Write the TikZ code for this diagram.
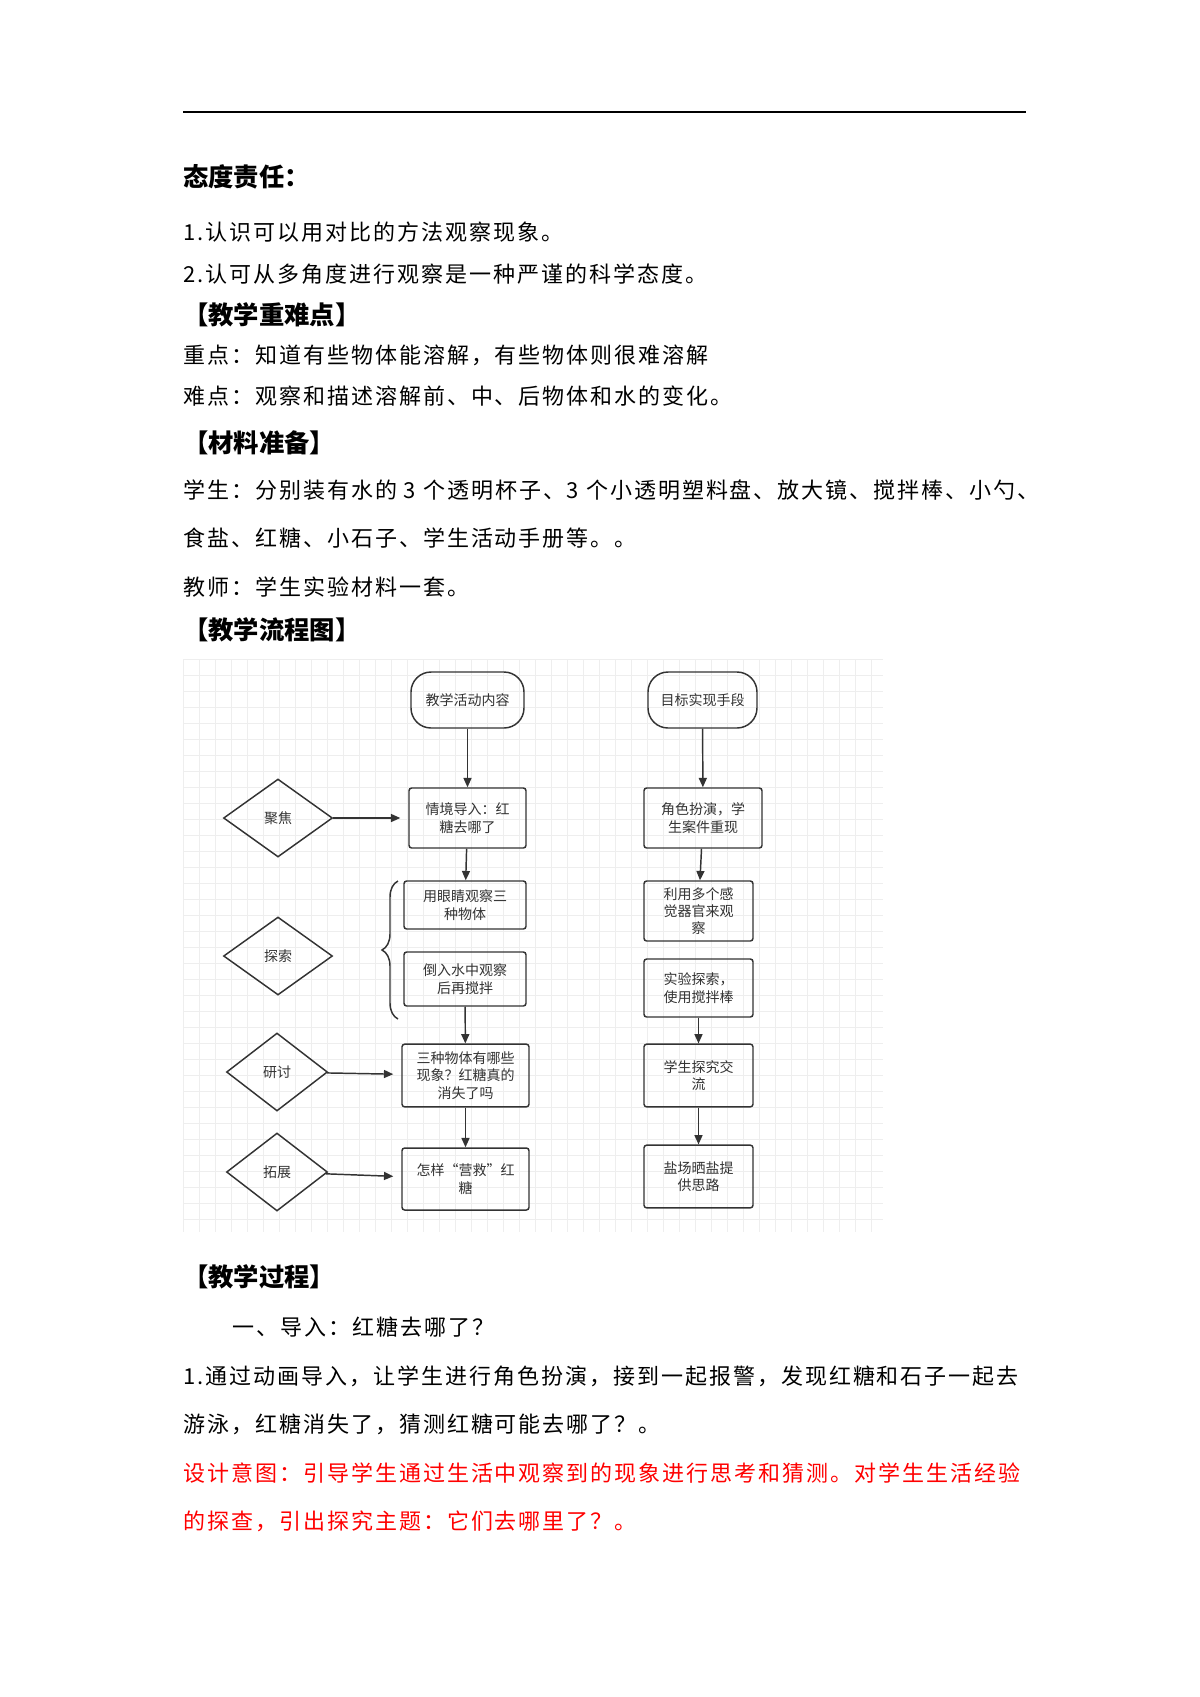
\documentclass[tikz,border=0pt]{standalone}
\usepackage{fontspec}
\setmainfont{Noto Sans CJK SC}
\newfontfamily\spaced[LetterSpace=9]{Noto Sans CJK SC}
\usetikzlibrary{shapes.geometric,arrows.meta,decorations.pathreplacing}
\definecolor{fc}{HTML}{333333}
\definecolor{rd}{HTML}{FF0000}
\begin{document}
\begin{tikzpicture}[x=0.75pt,y=-0.75pt,
  body/.style={anchor=west,inner sep=0pt,font=\spaced\fontsize{16.5}{20}\selectfont},
  head/.style={anchor=west,inner sep=0pt,font=\fontsize{19}{22}\selectfont\bfseries},
  box/.style={draw=fc,line width=1.1pt,rounded corners=2pt,align=center,text=fc,font=\fontsize{10.5}{13}\selectfont,inner sep=1pt},
  term/.style={box,rounded corners=15pt},
  dia/.style={diamond,draw=fc,line width=1.1pt,text=fc,font=\fontsize{10.5}{13}\selectfont,inner sep=0pt},
  arr/.style={draw=fc,line width=1.1pt,-{Triangle[length=7pt,width=6pt]}}]
\useasboundingbox (0,0) rectangle (1200,1697);
\fill[white] (0,0) rectangle (1200,1697);
\draw[line width=1pt] (183,112) -- (1026,112);
\node[head] (h1) at (183,177) {态度责任：};
\node[body] (t1) at (183,232) {1.认识可以用对比的方法观察现象。};
\node[body] (t2) at (183,274) {2.认可从多角度进行观察是一种严谨的科学态度。};
\node[head] (h2) at (183,315) {【教学重难点】};
\node[body] (t3) at (183,355) {重点：知道有些物体能溶解，有些物体则很难溶解};
\node[body] (t4) at (183,396) {难点：观察和描述溶解前、中、后物体和水的变化。};
\node[head] (h3) at (183,443) {【材料准备】};
\node[body] (t5) at (183,490) {学生：分别装有水的 3 个透明杯子、3 个小透明塑料盘、放大镜、搅拌棒、小勺、};
\node[body] (t6) at (183,538) {食盐、红糖、小石子、学生活动手册等。。};
\node[body] (t7) at (183,587) {教师：学生实验材料一套。};
\node[head] (h4) at (183,630) {【教学流程图】};
% grid
\foreach \gx in {183,199,...,883} \draw[gray!13,line width=0.5pt] (\gx,659) -- (\gx,1232);
\foreach \gy in {659,675,...,1232} \draw[gray!13,line width=0.5pt] (183,\gy) -- (883,\gy);
% nodes
\node[term,minimum width=84.75pt,minimum height=42pt] (T1) at (467.5,700) {教学活动内容};
\node[term,minimum width=81.75pt,minimum height=42pt] (T2) at (702.5,700) {目标实现手段};
\node[box,minimum width=87.75pt,minimum height=45pt] (B1) at (467.5,818) {情境导入：红\\糖去哪了};
\node[box,minimum width=88.5pt,minimum height=45pt] (R1) at (703,818) {角色扮演，学\\生案件重现};
\node[box,minimum width=91.5pt,minimum height=36pt] (B2) at (465,905) {用眼睛观察三\\种物体};
\node[box,minimum width=81.75pt,minimum height=45pt] (R2) at (698.5,911) {利用多个感\\觉器官来观\\察};
\node[box,minimum width=91.5pt,minimum height=40.5pt] (B3) at (465,979) {倒入水中观察\\后再搅拌};
\node[box,minimum width=81.75pt,minimum height=43.5pt] (R3) at (698.5,988) {实验探索，\\使用搅拌棒};
\node[box,minimum width=95.25pt,minimum height=47pt] (B4) at (465.5,1075.5) {三种物体有哪些\\现象？红糖真的\\消失了吗};
\node[box,minimum width=81.75pt,minimum height=47pt] (R4) at (698.5,1075.5) {学生探究交\\流};
\node[box,minimum width=95.25pt,minimum height=46.5pt] (B5) at (465.5,1179) {怎样“营救”红\\糖};
\node[box,minimum width=81.75pt,minimum height=47pt] (R5) at (698.5,1176.5) {盐场晒盐提\\供思路};
\node[dia,minimum width=81.75pt,minimum height=58.5pt] (D1) at (278,818) {聚焦};
\node[dia,minimum width=81.75pt,minimum height=58.5pt] (D2) at (278,956) {探索};
\node[dia,minimum width=75.75pt,minimum height=58.5pt] (D3) at (277,1072) {研讨};
\node[dia,minimum width=75.75pt,minimum height=58.5pt] (D4) at (277,1172) {拓展};
\draw[arr] (T1) -- (B1);
\draw[arr] (B1) -- (B2);
\draw[arr] (B3) -- (B4);
\draw[arr] (B4) -- (B5);
\draw[arr] (T2) -- (R1);
\draw[arr] (R1) -- (R2);
\draw[arr] (R3) -- (R4);
\draw[arr] (R4) -- (R5);
\draw[arr,shorten >=6pt] (D1) -- (B1);
\draw[arr,shorten >=6pt] (D3) -- (B4);
\draw[arr,shorten >=6pt] (D4) -- (B5);
\coordinate (bt) at (398,881);
\coordinate (bb) at (398,1019);
\draw[draw=fc,line width=1.1pt,decorate,decoration={brace,amplitude=12pt}] (bb) -- (bt);
% process
\node[head] (h5) at (183,1277) {【教学过程】};
\node[body] (t8) at (232,1327) {一、导入：红糖去哪了？};
\node[body] (t9) at (183,1376) {1.通过动画导入，让学生进行角色扮演，接到一起报警，发现红糖和石子一起去};
\node[body] (t10) at (183,1424) {游泳，红糖消失了，猜测红糖可能去哪了？。};
\node[body,text=rd] (t11) at (183,1473) {设计意图：引导学生通过生活中观察到的现象进行思考和猜测。对学生生活经验};
\node[body,text=rd] (t12) at (183,1521) {的探查，引出探究主题：它们去哪里了？。};
\end{tikzpicture}
\end{document}
